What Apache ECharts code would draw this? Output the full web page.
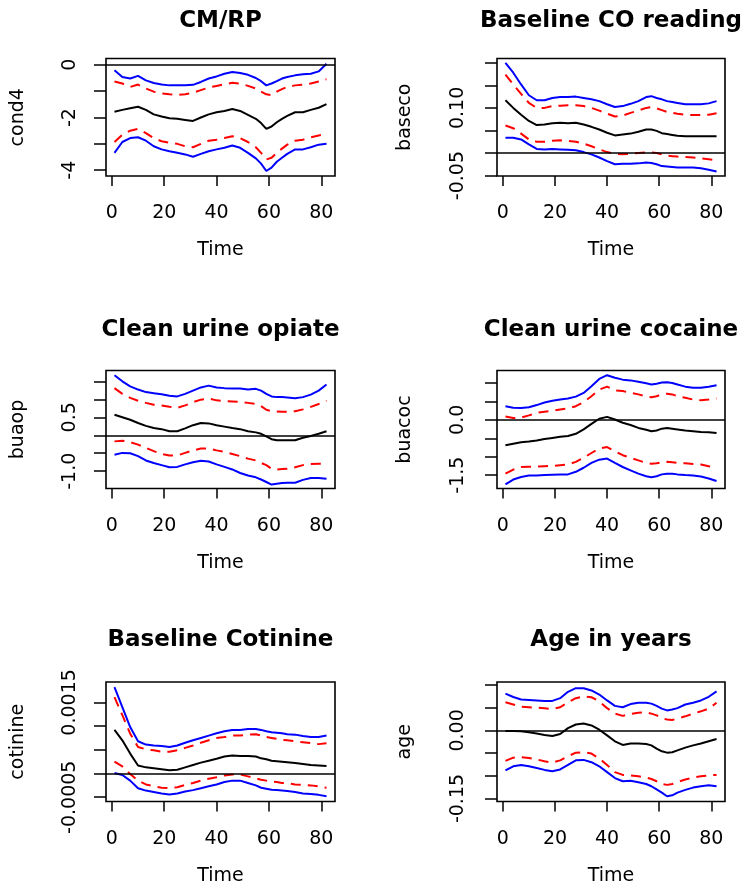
<!DOCTYPE html>
<html>
<head>
<meta charset="utf-8">
<script src="https://cdn.jsdelivr.net/npm/echarts@6/dist/echarts.min.js"></script>
<style>
html,body{margin:0;padding:0;background:#fff;}
#chart{width:751px;height:890px;}
</style>
</head>
<body>
<div id="chart"></div>
<script>
// ---------------- DATA ----------------
const times = [1,4,7,10,13,16,19,22,25,28,31,34,37,40,43,46,49,52,55,57,59,61,63,65,67,70,73,76,79,82];
const xTickValues = [0,20,40,60,80];

// CM/RP (cond4)
const cond4Upper95 = [-0.21,-0.46,-0.52,-0.42,-0.59,-0.69,-0.75,-0.78,-0.78,-0.78,-0.76,-0.65,-0.52,-0.44,-0.34,-0.27,-0.31,-0.38,-0.50,-0.62,-0.78,-0.71,-0.62,-0.52,-0.46,-0.40,-0.36,-0.34,-0.25,0.04];
const cond4Upper90 = [-0.63,-0.71,-0.84,-0.75,-0.90,-1.02,-1.09,-1.12,-1.14,-1.12,-1.06,-0.96,-0.86,-0.80,-0.74,-0.68,-0.71,-0.80,-0.90,-1.02,-1.12,-1.15,-1.02,-0.92,-0.84,-0.78,-0.75,-0.71,-0.63,-0.55];
const cond4Est     = [-1.78,-1.71,-1.65,-1.59,-1.71,-1.88,-1.96,-2.03,-2.05,-2.09,-2.13,-2.00,-1.88,-1.80,-1.75,-1.68,-1.75,-1.90,-2.05,-2.21,-2.43,-2.34,-2.18,-2.05,-1.94,-1.80,-1.80,-1.71,-1.63,-1.49];
const cond4Lower90 = [-2.93,-2.65,-2.50,-2.43,-2.59,-2.78,-2.90,-2.96,-3.00,-3.09,-3.13,-3.00,-2.88,-2.84,-2.78,-2.71,-2.78,-2.93,-3.13,-3.34,-3.59,-3.53,-3.34,-3.18,-3.03,-2.88,-2.84,-2.75,-2.68,-2.63];
const cond4Lower95 = [-3.34,-2.93,-2.78,-2.75,-2.88,-3.09,-3.21,-3.28,-3.34,-3.40,-3.49,-3.38,-3.28,-3.21,-3.15,-3.06,-3.15,-3.34,-3.55,-3.75,-4.03,-3.90,-3.68,-3.53,-3.38,-3.21,-3.21,-3.13,-3.03,-3.00];
const cond4Ticks = [-4,-3,-2,-1,0];
const cond4LabelValues = [0,-2,-4];
const cond4LabelTexts = ['0','-2','-4'];

// Baseline CO reading (baseco)
const basecoUpper95 = [0.200,0.178,0.152,0.128,0.117,0.117,0.122,0.124,0.124,0.125,0.122,0.119,0.115,0.108,0.102,0.104,0.109,0.115,0.124,0.126,0.122,0.119,0.115,0.113,0.111,0.108,0.108,0.108,0.110,0.115];
const basecoUpper90 = [0.174,0.152,0.131,0.111,0.100,0.100,0.104,0.105,0.106,0.106,0.104,0.100,0.094,0.087,0.081,0.083,0.089,0.094,0.100,0.102,0.099,0.095,0.091,0.089,0.087,0.085,0.084,0.084,0.085,0.088];
const basecoEst     = [0.117,0.100,0.085,0.071,0.062,0.063,0.066,0.067,0.066,0.067,0.063,0.058,0.052,0.045,0.039,0.041,0.043,0.047,0.052,0.052,0.049,0.044,0.042,0.040,0.038,0.037,0.037,0.037,0.037,0.037];
const basecoLower90 = [0.061,0.055,0.043,0.030,0.025,0.025,0.027,0.028,0.027,0.025,0.021,0.015,0.008,0.002,-0.0015,-0.003,-0.0015,0.000,0.0015,0.0015,0.000,-0.003,-0.006,-0.007,-0.008,-0.009,-0.010,-0.012,-0.014,-0.016];
const basecoLower95 = [0.034,0.034,0.030,0.019,0.009,0.008,0.009,0.008,0.007,0.006,0.002,-0.003,-0.010,-0.018,-0.025,-0.024,-0.024,-0.023,-0.021,-0.022,-0.025,-0.029,-0.030,-0.031,-0.032,-0.032,-0.032,-0.034,-0.037,-0.041];
const basecoTicks = [-0.05,0,0.05,0.10,0.15,0.20];
const basecoLabelValues = [0.10,-0.05];
const basecoLabelTexts = ['0.10','-0.05'];

// Clean urine opiate (buaop)
const buaopUpper95 = [1.67,1.50,1.36,1.27,1.20,1.17,1.14,1.10,1.08,1.15,1.24,1.33,1.38,1.33,1.31,1.30,1.30,1.27,1.29,1.24,1.15,1.08,1.06,1.06,1.05,1.03,1.06,1.13,1.24,1.41];
const buaopUpper90 = [1.31,1.15,1.04,0.96,0.90,0.85,0.83,0.79,0.76,0.83,0.92,0.99,1.02,0.97,0.95,0.94,0.93,0.90,0.87,0.81,0.71,0.67,0.66,0.65,0.65,0.67,0.72,0.79,0.87,0.96];
const buaopEst     = [0.57,0.50,0.43,0.34,0.26,0.20,0.17,0.11,0.11,0.19,0.28,0.34,0.33,0.28,0.24,0.20,0.17,0.11,0.08,0.04,-0.03,-0.11,-0.14,-0.14,-0.14,-0.14,-0.07,-0.02,0.04,0.11];
const buaopLower90 = [-0.17,-0.15,-0.19,-0.26,-0.35,-0.44,-0.52,-0.56,-0.56,-0.49,-0.42,-0.37,-0.37,-0.42,-0.46,-0.52,-0.58,-0.65,-0.70,-0.77,-0.83,-0.93,-0.95,-0.94,-0.93,-0.89,-0.83,-0.80,-0.79,-0.79];
const buaopLower95 = [-0.54,-0.49,-0.50,-0.58,-0.70,-0.77,-0.83,-0.89,-0.88,-0.81,-0.75,-0.71,-0.73,-0.81,-0.88,-0.95,-1.05,-1.12,-1.17,-1.23,-1.30,-1.37,-1.35,-1.33,-1.32,-1.32,-1.24,-1.19,-1.19,-1.21];
const buaopTicks = [-1.0,-0.5,0,0.5,1.0,1.5];
const buaopLabelValues = [0.5,-1.0];
const buaopLabelTexts = ['0.5','-1.0'];

// Clean urine cocaine (buacoc)
const buacocUpper95 = [0.37,0.33,0.32,0.34,0.40,0.47,0.52,0.55,0.58,0.63,0.73,0.91,1.11,1.21,1.14,1.09,1.07,1.03,0.99,0.96,0.98,1.01,1.02,1.00,0.96,0.90,0.87,0.87,0.90,0.94];
const buacocUpper90 = [0.09,0.05,0.06,0.12,0.19,0.22,0.25,0.28,0.31,0.37,0.48,0.64,0.82,0.90,0.80,0.78,0.73,0.69,0.64,0.61,0.64,0.69,0.71,0.69,0.64,0.60,0.55,0.53,0.55,0.58];
const buacocEst     = [-0.69,-0.65,-0.61,-0.59,-0.56,-0.52,-0.49,-0.46,-0.44,-0.38,-0.26,-0.11,0.03,0.08,0.01,-0.08,-0.14,-0.22,-0.27,-0.31,-0.29,-0.24,-0.22,-0.24,-0.26,-0.29,-0.31,-0.33,-0.34,-0.36];
const buacocLower90 = [-1.46,-1.35,-1.28,-1.27,-1.27,-1.26,-1.25,-1.23,-1.21,-1.14,-1.03,-0.90,-0.78,-0.74,-0.85,-0.96,-1.03,-1.10,-1.17,-1.19,-1.18,-1.15,-1.14,-1.15,-1.17,-1.18,-1.20,-1.21,-1.26,-1.30];
const buacocLower95 = [-1.75,-1.62,-1.55,-1.51,-1.51,-1.50,-1.49,-1.48,-1.48,-1.41,-1.30,-1.17,-1.08,-1.05,-1.17,-1.28,-1.37,-1.46,-1.53,-1.56,-1.53,-1.48,-1.46,-1.46,-1.48,-1.50,-1.51,-1.54,-1.59,-1.66];
const buacocTicks = [-1.5,-1.0,-0.5,0,0.5,1.0];
const buacocLabelValues = [0.0,-1.5];
const buacocLabelTexts = ['0.0','-1.5'];

// Baseline Cotinine (cotinine)
const cotinineUpper95 = [0.00182,0.00140,0.00098,0.00068,0.00061,0.00059,0.00058,0.00056,0.00059,0.00065,0.00070,0.00075,0.00080,0.00085,0.00089,0.00092,0.00092,0.00094,0.00094,0.00092,0.00089,0.00087,0.00086,0.00085,0.00083,0.00082,0.00079,0.00077,0.00077,0.00080];
const cotinineUpper90 = [0.00161,0.00123,0.00084,0.00056,0.00051,0.00049,0.00046,0.00046,0.00049,0.00054,0.00059,0.00065,0.00070,0.00075,0.00077,0.00080,0.00080,0.00082,0.00083,0.00080,0.00077,0.00075,0.00073,0.00071,0.00070,0.00068,0.00066,0.00064,0.00062,0.00064];
const cotinineEst     = [0.00092,0.00070,0.00042,0.00017,0.00013,0.00011,0.00009,0.00007,0.00008,0.00013,0.00018,0.00023,0.00027,0.00031,0.00036,0.00038,0.00037,0.00037,0.00036,0.00032,0.00030,0.00027,0.00026,0.00025,0.00024,0.00022,0.00020,0.00018,0.00017,0.00016];
const cotinineLower90 = [0.00025,0.00015,-0.00001,-0.00015,-0.00023,-0.00027,-0.00030,-0.00031,-0.00029,-0.00024,-0.00020,-0.00015,-0.00011,-0.00008,-0.00004,-0.00002,-0.00002,-0.00006,-0.00010,-0.00013,-0.00015,-0.00017,-0.00018,-0.00020,-0.00020,-0.00023,-0.00024,-0.00025,-0.00027,-0.00030];
const cotinineLower95 = [0.00001,-0.00003,-0.00015,-0.00031,-0.00036,-0.00039,-0.00042,-0.00044,-0.00042,-0.00038,-0.00035,-0.00031,-0.00027,-0.00023,-0.00018,-0.00015,-0.00015,-0.00020,-0.00025,-0.00030,-0.00032,-0.00034,-0.00035,-0.00036,-0.00037,-0.00039,-0.00042,-0.00043,-0.00045,-0.00048];
const cotinineTicks = [-0.0005,0,0.0005,0.0010,0.0015];
const cotinineLabelValues = [0.0015,-0.0005];
const cotinineLabelTexts = ['0.0015','-0.0005'];

// Age in years (age)
const ageUpper95 = [0.081,0.0735,0.068,0.067,0.066,0.065,0.065,0.071,0.085,0.093,0.093,0.088,0.079,0.066,0.054,0.051,0.058,0.061,0.061,0.059,0.054,0.048,0.044,0.046,0.049,0.057,0.061,0.066,0.074,0.086];
const ageUpper90 = [0.062,0.057,0.052,0.051,0.050,0.049,0.047,0.051,0.062,0.071,0.075,0.073,0.064,0.049,0.037,0.032,0.036,0.039,0.040,0.037,0.033,0.027,0.024,0.023,0.026,0.031,0.037,0.042,0.048,0.061];
const ageEst     = [-0.0015,-0.0015,-0.002,-0.004,-0.007,-0.010,-0.0125,-0.008,0.005,0.013,0.015,0.011,0.0015,-0.011,-0.024,-0.032,-0.029,-0.029,-0.030,-0.033,-0.040,-0.046,-0.049,-0.048,-0.044,-0.038,-0.033,-0.029,-0.024,-0.019];
const ageLower90 = [-0.067,-0.060,-0.059,-0.061,-0.064,-0.068,-0.071,-0.066,-0.057,-0.049,-0.048,-0.051,-0.062,-0.076,-0.092,-0.098,-0.099,-0.101,-0.104,-0.107,-0.112,-0.118,-0.120,-0.118,-0.114,-0.108,-0.104,-0.101,-0.099,-0.098];
const ageLower95 = [-0.088,-0.079,-0.076,-0.079,-0.083,-0.087,-0.090,-0.086,-0.076,-0.066,-0.065,-0.070,-0.079,-0.092,-0.105,-0.112,-0.111,-0.114,-0.118,-0.123,-0.130,-0.137,-0.145,-0.143,-0.137,-0.131,-0.126,-0.123,-0.121,-0.123];
const ageTicks = [-0.15,-0.10,-0.05,0,0.05,0.10];
const ageLabelValues = [0.00,-0.15];
const ageLabelTexts = ['0.00','-0.15'];

// ---------------- LAYOUT ----------------
const FONT = 'DejaVu Sans';
const panels = [
  {title:'CM/RP', yName:'cond4', lines:[cond4Upper95,cond4Upper90,cond4Est,cond4Lower90,cond4Lower95], ticks:cond4Ticks, lv:cond4LabelValues, lt:cond4LabelTexts, ymin:-4.22, ymax:0.24, col:0, row:0},
  {title:'Baseline CO reading', yName:'baseco', lines:[basecoUpper95,basecoUpper90,basecoEst,basecoLower90,basecoLower95], ticks:basecoTicks, lv:basecoLabelValues, lt:basecoLabelTexts, ymin:-0.051, ymax:0.2095, col:1, row:0},
  {title:'Clean urine opiate', yName:'buaop', lines:[buaopUpper95,buaopUpper90,buaopEst,buaopLower90,buaopLower95], ticks:buaopTicks, lv:buaopLabelValues, lt:buaopLabelTexts, ymin:-1.48, ymax:1.80, col:0, row:1},
  {title:'Clean urine cocaine', yName:'buacoc', lines:[buacocUpper95,buacocUpper90,buacocEst,buacocLower90,buacocLower95], ticks:buacocTicks, lv:buacocLabelValues, lt:buacocLabelTexts, ymin:-1.863, ymax:1.338, col:1, row:1},
  {title:'Baseline Cotinine', yName:'cotinine', lines:[cotinineUpper95,cotinineUpper90,cotinineEst,cotinineLower90,cotinineLower95], ticks:cotinineTicks, lv:cotinineLabelValues, lt:cotinineLabelTexts, ymin:-0.00059, ymax:0.00193, col:0, row:2},
  {title:'Age in years', yName:'age', lines:[ageUpper95,ageUpper90,ageEst,ageLower90,ageLower95], ticks:ageTicks, lv:ageLabelValues, lt:ageLabelTexts, ymin:-0.1566, ymax:0.1066, col:1, row:2}
];
const colLeft = [106, 497], colWidth = [229, 228];
const rowTop = [58.5, 370.5, 682], rowHeight = [117.5, 118, 119.5];
const titleY = [21, 330, 640];
const yLabelMargin = [26.5, 29], yNameGap = [78, 82];

const lineStyles = [
  {color:'#0000FF', type:'solid'},
  {color:'#FF0000', type:[10,7]},
  {color:'#000000', type:'solid'},
  {color:'#FF0000', type:[10,7]},
  {color:'#0000FF', type:'solid'}
];

function makeFmt(vals, texts){
  return function(v){
    for (let i=0;i<vals.length;i++){ if (Math.abs(v-vals[i]) < 1e-10) return texts[i]; }
    return '';
  };
}

const grids=[], xAxes=[], yAxes=[], series=[], graphics=[];
panels.forEach((p, i) => {
  grids.push({left:colLeft[p.col], top:rowTop[p.row], width:colWidth[p.col], height:rowHeight[p.row],
    show:true, borderColor:'#000', borderWidth:1.6, backgroundColor:'transparent', containLabel:false});
  xAxes.push({type:'value', gridIndex:i, min:-2.24, max:85.24, position:'bottom',
    axisLine:{show:false, onZero:false}, splitLine:{show:false},
    axisTick:{show:true, inside:false, length:10, lineStyle:{color:'#000', width:1.5}, customValues:xTickValues},
    axisLabel:{show:true, margin:28, fontSize:19, fontFamily:FONT, color:'#000', customValues:xTickValues},
    name:'Time', nameLocation:'middle', nameGap:65, nameTextStyle:{fontSize:19, fontFamily:FONT, color:'#000'}
  });
  yAxes.push({type:'value', gridIndex:i, min:p.ymin, max:p.ymax, position:'left',
    axisLine:{show:false, onZero:false}, splitLine:{show:false},
    axisTick:{show:true, inside:false, length:12, lineStyle:{color:'#000', width:1.5}, customValues:p.ticks},
    axisLabel:{show:true, rotate:90, margin:yLabelMargin[p.col], fontSize:19, fontFamily:FONT, color:'#000',
      customValues:p.lv, formatter:makeFmt(p.lv, p.lt)},
    name:p.yName, nameLocation:'middle', nameGap:yNameGap[p.col], nameRotate:90,
    nameTextStyle:{fontSize:19, fontFamily:FONT, color:'#000'}
  });
  p.lines.forEach((arr, k) => {
    const s = {type:'line', xAxisIndex:i, yAxisIndex:i, showSymbol:false, symbol:'none', silent:true,
      data: times.map((t, j) => [t, arr[j]]),
      lineStyle:{color:lineStyles[k].color, type:lineStyles[k].type, width:2},
      itemStyle:{color:lineStyles[k].color}, z: 3 + (k===2?1:0)};
    if (k === 2) {
      s.markLine = {silent:true, symbol:['none','none'], label:{show:false},
        lineStyle:{color:'#000', type:'solid', width:1.6}, data:[{yAxis:0}], animation:false};
    }
    series.push(s);
  });
  graphics.push({type:'text', x: colLeft[p.col] + colWidth[p.col]/2, y: titleY[p.row],
    style:{text:p.title, fill:'#000', font:'bold 23px "' + FONT + '"', textAlign:'center', textVerticalAlign:'middle'}});
});

const chart = echarts.init(document.getElementById('chart'), null, {renderer:'canvas'});
chart.setOption({
  animation:false,
  backgroundColor:'#fff',
  grid:grids, xAxis:xAxes, yAxis:yAxes, series:series, graphic:graphics
});
</script>
</body>
</html>
